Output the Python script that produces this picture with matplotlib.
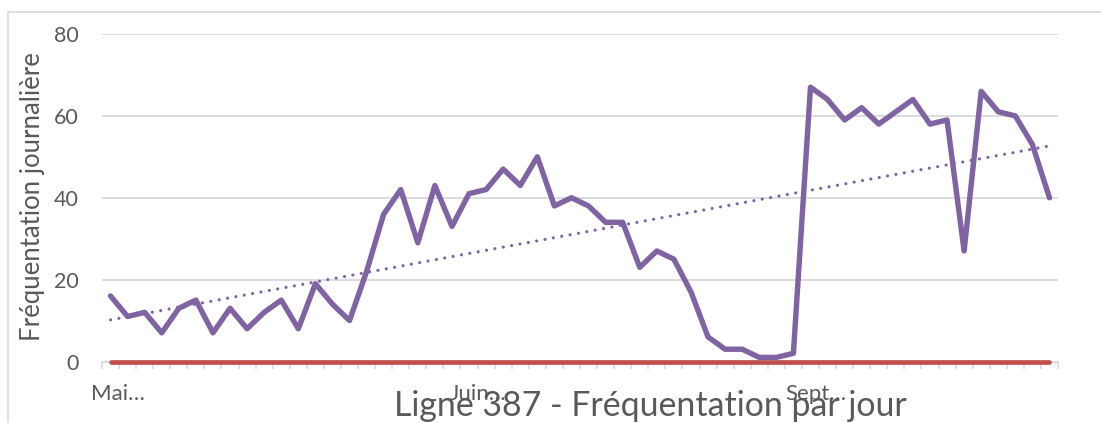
import numpy as np
import matplotlib
matplotlib.use("Agg")
import matplotlib.pyplot as plt
import matplotlib.transforms as mtransforms
from matplotlib.patches import Rectangle

# ---- data ----
frequentation = [16, 11, 12, 7, 13, 15, 7, 13, 8, 12, 15, 8, 19, 14, 10, 22,
                 36, 42, 29, 43, 33, 41, 42, 47, 43, 50, 38, 40, 38, 34, 34,
                 23, 27, 25, 17, 6, 3, 3, 1, 1, 2, 67, 64, 59, 62, 58, 61,
                 64, 58, 59, 27, 66, 61, 60, 53, 40]
zero_series = [0] * len(frequentation)
cat_labels = ["Mai\u2026", "Juin\u2026", "Sept\u2026"]
cat_label_pos = [0.45, 21.5, 41.3]
y_ticks = [0, 20, 40, 60, 80]
title = "Ligne 387 - Fréquentation par jour"
ylabel = "Fréquentation journalière"

PURPLE = "#8064A2"
RED = "#C0504D"
TEXT = "#595959"
GRID = "#D9D9D9"
FONT = "Lato"

W, H = 1101, 423
fig = plt.figure(figsize=(W / 100, H / 100), dpi=100)
fig.patch.set_facecolor("white")

# outer chart border
fig.patches.append(Rectangle((8 / W, -0.2), 1.2, (H - 12) / H + 0.2,
                             transform=fig.transFigure, fill=False,
                             edgecolor=GRID, linewidth=1.2))

ax = fig.add_axes([102 / W, (H - 361.5) / H, 956 / W, 327.5 / H])
n = len(frequentation)
x = np.arange(n)

ax.plot(x, zero_series, color=RED, lw=3.4, solid_capstyle="round", zorder=3,
        clip_on=False)
ax.plot(x, frequentation, color=PURPLE, lw=3.9, solid_joinstyle="round",
        solid_capstyle="round", zorder=4, clip_on=False)

coef = np.polyfit(x, frequentation, 1)
trend = np.polyval(coef, x)
ax.plot(x, trend, color=PURPLE, lw=2.3, linestyle=(0, (0.01, 2.65)),
        dash_capstyle="round", zorder=5)

ax.set_xlim(-0.5, n - 0.5)
ax.set_ylim(0, 80)
ax.set_yticks(y_ticks)
ax.set_yticklabels([str(v) for v in y_ticks], fontsize=15.5, color=TEXT,
                   family=FONT)
ax.tick_params(axis="y", length=0, pad=17)
ax.grid(axis="y", color=GRID, lw=1.3)
ax.set_axisbelow(True)

ax.set_xticks(np.arange(-0.5, n, 1.0))
ax.set_xticklabels([])
ax.tick_params(axis="x", length=5, width=1.2, color=GRID, direction="out")

for s in ["top", "right", "left"]:
    ax.spines[s].set_visible(False)
ax.spines["bottom"].set_color(GRID)
ax.spines["bottom"].set_linewidth(1.3)

cat_tf = mtransforms.blended_transform_factory(ax.transData, fig.transFigure)
for lab, pos in zip(cat_labels, cat_label_pos):
    ax.text(pos, (H - 400) / H, lab, transform=cat_tf,
            ha="center", va="baseline", fontsize=16, color=TEXT, family=FONT)

fig.text(33 / W, (H - 196.5) / H, ylabel, rotation=90, ha="center",
         va="center", fontsize=18.5, color=TEXT, family=FONT)
fig.text(650 / W, (H - 416) / H, title, ha="center", va="baseline",
         fontsize=24.4, color=TEXT, family=FONT)

fig.savefig("out.png", dpi=100, facecolor="white")
